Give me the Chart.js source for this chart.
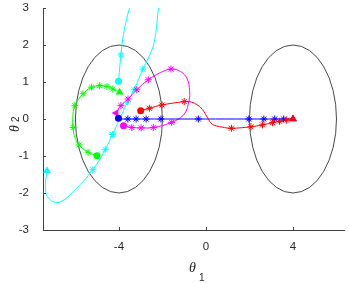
<!DOCTYPE html>
<html>
<head>
<meta charset="utf-8">
<script src="https://cdn.jsdelivr.net/npm/chart.js@4.4.0/dist/chart.umd.min.js"></script>
<style>
  html, body { margin: 0; padding: 0; background: #fff; }
</style>
</head>
<body>
<canvas id="phaseChart" width="349" height="283"></canvas>
<script>
// ticks
const xTicks = [-4, 0, 4];
const yTicks = [-3, -2, -1, 0, 1, 2, 3];

// two circles of radius 2 around the targets
const ellipseCentersX = [-4, 4];
const ellipseRadius = 2;

// blue trajectory
const bluePath = [[-4.02, 0], [4, 0]];
const blueStars = [[-3.59, 0], [-3.21, 0], [-2.75, 0], [-2.07, 0], [-0.35, 0], [1.97, 0], [2.66, 0], [3.16, 0], [3.57, 0]];
const blueStart = [-4.02, 0.02];
const blueEnd = [4, 0];

// red trajectory
const redPath = [[-3.0, 0.22], [-2.6, 0.29], [-2.02, 0.38], [-1.0, 0.47], [-0.75, 0.47], [-0.45, 0.4], [-0.17, 0.26],
  [0.06, 0.05], [0.29, -0.14], [0.75, -0.22], [1.17, -0.25], [2.07, -0.21], [2.6, -0.16], [3.06, -0.1],
  [3.38, -0.06], [3.71, -0.03], [4.0, 0.0]];
const redStars = [[-2.6, 0.29], [-2.02, 0.38], [-1.0, 0.47], [1.17, -0.25], [2.07, -0.21], [2.6, -0.16], [3.06, -0.1], [3.38, -0.06], [3.71, -0.03]];
const redStart = [-3.0, 0.22];
const redEnd = [4.0, 0.0];

// magenta trajectory
const magentaPath = [[-3.79, -0.18], [-3.41, -0.23], [-2.98, -0.24], [-2.42, -0.23], [-1.58, -0.09], [-1.0, 0.13],
  [-0.78, 0.5], [-0.75, 0.77], [-0.86, 1.08], [-1.16, 1.28], [-1.61, 1.35], [-2.1, 1.25], [-2.65, 1.06],
  [-3.18, 0.79], [-3.58, 0.54], [-3.91, 0.36], [-4.13, 0.16]];
const magentaStars = [[-3.41, -0.23], [-2.98, -0.24], [-2.42, -0.23], [-1.58, -0.09], [-1.61, 1.35], [-2.65, 1.06], [-3.18, 0.79], [-3.58, 0.54], [-3.91, 0.36]];
const magentaStart = [-3.79, -0.18];
const magentaEnd = [-4.13, 0.16];

// green trajectory
const greenPath = [[-5.01, -0.99], [-5.42, -0.9], [-5.83, -0.7], [-6.05, -0.45], [-6.12, -0.2], [-6.12, 0.05],
  [-6.03, 0.36], [-5.65, 0.68], [-5.26, 0.86], [-4.89, 0.9], [-4.55, 0.88], [-4.28, 0.81], [-3.97, 0.72]];
const greenStars = [[-5.42, -0.9], [-5.83, -0.7], [-6.1, -0.23], [-6.03, 0.36], [-5.65, 0.68], [-5.26, 0.86], [-4.89, 0.9], [-4.55, 0.88], [-4.28, 0.81]];
const greenStart = [-5.01, -0.99];
const greenEnd = [-3.97, 0.72];

// cyan trajectory (leaves through the top and comes back)
const cyanPath1 = [[-4.02, 1.02], [-3.97, 1.35], [-3.91, 1.73], [-3.8, 2.25], [-3.65, 2.7], [-3.5, 3.05], [-3.45, 3.3]];
const cyanPath2 = [[-2.15, 3.3], [-2.2, 2.9], [-2.38, 2.07], [-2.62, 1.68], [-2.9, 1.35], [-3.3, 0.8], [-3.61, 0.46],
  [-3.95, 0.02], [-4.3, -0.42], [-4.63, -0.83], [-5.2, -1.37], [-5.98, -1.89], [-6.74, -2.25], [-7.2, -2.16],
  [-7.38, -1.89], [-7.31, -1.4]];
const cyanStars = [[-3.91, 1.73], [-2.9, 1.35], [-3.3, 0.79], [-3.61, 0.46], [-4.3, -0.42], [-4.63, -0.83], [-5.2, -1.37]];
const cyanStart = [-4.02, 1.02];
const cyanEnd = [-7.31, -1.4];

const axisColor = '#404040';
const textColor = '#262626';

function pts(arr) {
    return arr.map(p => ({ x: p[0], y: p[1] }));
}

function lineDs(arr, color) {
    return { data: pts(arr), showLine: true, borderColor: color, borderWidth: 1, pointRadius: 0, tension: 0.4, order: 3 };
}

function starDs(arr, color) {
    return { data: pts(arr), showLine: false, pointStyle: 'star', pointRadius: 3.5, borderColor: color, borderWidth: 1, order: 2 };
}

function endDs(start, end, color, rot) {
    return {
        data: pts([start, end]), showLine: false,
        pointStyle: ['circle', 'triangle'], pointRadius: [3.5, 4.5], pointRotation: [0, rot],
        backgroundColor: color, borderColor: color, borderWidth: 0, order: 1
    };
}

const datasets = [
    endDs(redStart, redEnd, '#ff0000', 0),
    endDs(blueStart, blueEnd, '#0000ff', 0),
    endDs(magentaStart, magentaEnd, '#ff00ff', -90),
    endDs(greenStart, greenEnd, '#00ff00', 0),
    endDs(cyanStart, cyanEnd, '#00ffff', 0),
    starDs(redStars, '#ff0000'),
    starDs(blueStars, '#0000ff'),
    starDs(magentaStars, '#ff00ff'),
    starDs(greenStars, '#00ff00'),
    starDs(cyanStars, '#00ffff'),
    lineDs(redPath, '#ff0000'),
    lineDs(bluePath, '#0000ff'),
    lineDs(magentaPath, '#ff00ff'),
    lineDs(greenPath, '#00ff00'),
    lineDs(cyanPath1, '#00ffff'),
    lineDs(cyanPath2, '#00ffff')
];

// circles around the two targets
const ellipsePlugin = {
    id: 'ellipses',
    beforeDatasetsDraw(chart) {
        const { ctx, scales: { x, y } } = chart;
        ctx.save();
        ctx.strokeStyle = '#333333';
        ctx.lineWidth = 0.9;
        ellipseCentersX.forEach(cx => {
            const px = x.getPixelForValue(cx);
            const py = y.getPixelForValue(0);
            const rx = x.getPixelForValue(cx + ellipseRadius) - px;
            const ry = py - y.getPixelForValue(ellipseRadius);
            ctx.beginPath();
            ctx.ellipse(px, py, rx, ry, 0, 0, 2 * Math.PI);
            ctx.stroke();
        });
        ctx.restore();
    }
};

// inward ticks and axis titles
const axisExtras = {
    id: 'axisExtras',
    afterDraw(chart) {
        const { ctx, chartArea, scales: { x, y } } = chart;
        ctx.save();
        ctx.strokeStyle = axisColor;
        ctx.lineWidth = 1;
        ctx.beginPath();
        xTicks.forEach(v => {
            const px = Math.round(x.getPixelForValue(v)) + 0.5;
            ctx.moveTo(px, chartArea.bottom);
            ctx.lineTo(px, chartArea.bottom - 3);
        });
        yTicks.forEach(v => {
            const py = Math.round(y.getPixelForValue(v)) + 0.5;
            ctx.moveTo(chartArea.left, py);
            ctx.lineTo(chartArea.left + 3, py);
        });
        ctx.stroke();

        ctx.fillStyle = textColor;
        ctx.textBaseline = 'alphabetic';
        ctx.textAlign = 'left';
        // x title
        ctx.font = 'italic 14px "Liberation Serif"';
        ctx.fillText('θ', 189, 272);
        ctx.font = '10px "Liberation Sans"';
        ctx.fillText('1', 199, 281);
        // y title
        ctx.translate(19, 132);
        ctx.rotate(-Math.PI / 2);
        ctx.font = 'italic 14px "Liberation Serif"';
        ctx.fillText('θ', 0, 0);
        ctx.font = '10px "Liberation Sans"';
        ctx.fillText('2', 10, 0);
        ctx.restore();
    }
};

const tickFont = { family: '"Liberation Sans", Arial, sans-serif', size: 11.5 };

new Chart(document.getElementById('phaseChart').getContext('2d'), {
    type: 'scatter',
    data: { datasets: datasets },
    options: {
        responsive: false,
        animation: false,
        layout: { padding: { top: 8, left: 0, right: 0, bottom: 0 } },
        plugins: { legend: { display: false }, tooltip: { enabled: false } },
        scales: {
            x: {
                type: 'linear',
                min: -7.49,
                max: 6.345,
                afterBuildTicks: s => { s.ticks = xTicks.map(v => ({ value: v })); },
                afterFit: s => { s.height = 53; s.paddingLeft = 0; s.paddingRight = 0; },
                grid: { display: false, drawTicks: false },
                border: { display: true, color: axisColor, width: 1 },
                ticks: { padding: 10, color: textColor, font: tickFont, maxRotation: 0, autoSkip: false }
            },
            y: {
                type: 'linear',
                min: -3,
                max: 3,
                afterBuildTicks: s => { s.ticks = yTicks.map(v => ({ value: v })); },
                afterFit: s => { s.width = 43; s.paddingTop = 0; s.paddingBottom = 0; },
                grid: { display: false, drawTicks: false },
                border: { display: true, color: axisColor, width: 1 },
                ticks: { padding: 14, color: textColor, font: tickFont, autoSkip: false }
            }
        }
    },
    plugins: [ellipsePlugin, axisExtras]
});
</script>
</body>
</html>
